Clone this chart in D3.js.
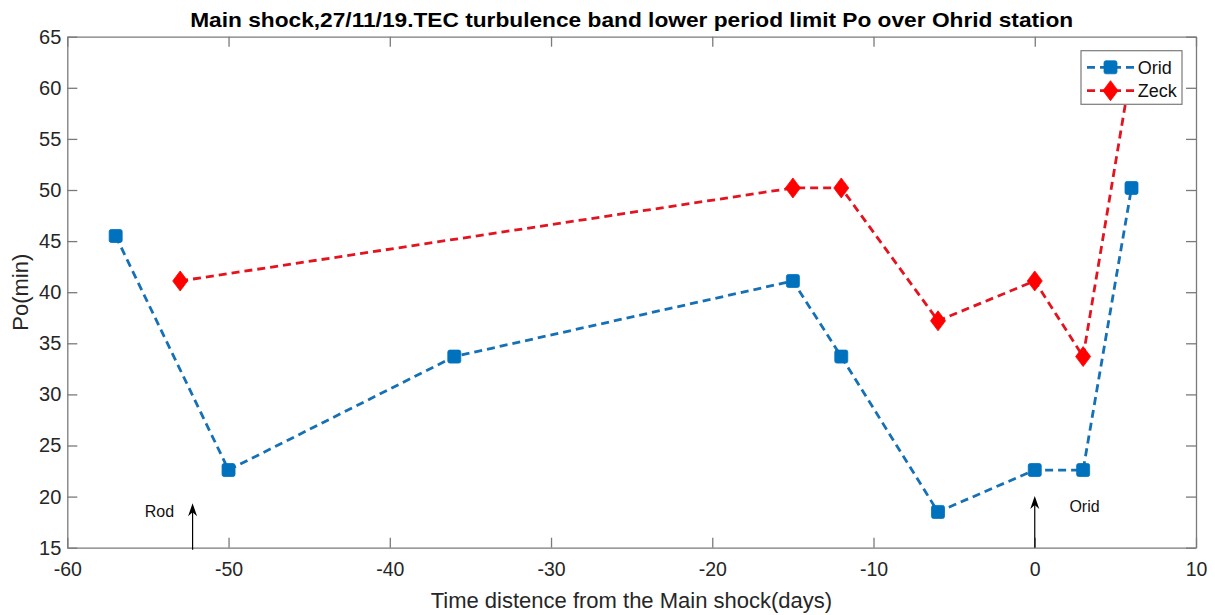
<!DOCTYPE html>
<html>
<head>
<meta charset="utf-8">
<script src="https://cdn.jsdelivr.net/npm/d3@7"></script>
<style>
  html, body { margin: 0; padding: 0; background: #ffffff; }
  svg { display: block; font-family: "Liberation Sans", Arial, Helvetica, sans-serif; }
</style>
</head>
<body>
<svg id="chart" width="1215" height="615"></svg>
<script>
// ---- data ----
const oridDays = [-57, -50, -36, -15, -12, -6, 0, 3, 6];
const oridPo   = [45.5, 22.6, 33.7, 41.1, 33.7, 18.5, 22.6, 22.6, 50.2];
const zeckDays = [-53, -15, -12, -6, 0, 3, 6];
const zeckPo   = [41.1, 50.2, 50.2, 37.2, 41.1, 33.7, 62.0];
const xTicks = [-60, -50, -40, -30, -20, -10, 0, 10];
const yTicks = [15, 20, 25, 30, 35, 40, 45, 50, 55, 60, 65];
const seriesNames = ["Orid", "Zeck"];
// annotations: label, arrow x (days), arrow tail y, arrow tip y, label x, label y (data units)
const annLabels = ["Rod", "Orid"];
const annArrowX = [-52.23, 0];
const annTailY  = [14.8, 15.0];
const annTipY   = [19.35, 20.05];
const annTextX  = [-55.2, 2.15];
const annTextY  = [17.97, 18.46];

const titleText = "Main shock,27/11/19.TEC turbulence band lower period limit Po over Ohrid station";
const xLabelText = "Time distence from the Main shock(days)";
const yLabelText = "Po(min)";

// ---- layout ----
const L = 67.3, R = 1196, T = 36.7, B = 547.7;
const svg = d3.select("#chart");
const x = d3.scaleLinear().domain([-60, 10]).range([L, R]);
const y = d3.scaleLinear().domain([15, 65]).range([B, T]);

const axisColor = "#7a7a7a";
const textColor = "#262626";
const blue = "#0072BD";
const red = "#FF0000";
const fmt = d => String(d);

function styleAxis(g) {
  g.selectAll(".domain").attr("stroke", axisColor).attr("stroke-width", 1.3);
  g.selectAll(".tick line").attr("stroke", axisColor).attr("stroke-width", 1.3);
  g.selectAll(".tick text").attr("fill", textColor)
    .style("font-family", '"Liberation Sans", Arial, sans-serif');
}

svg.append("g").attr("transform", `translate(0,${B})`)
  .call(d3.axisBottom(x).tickValues(xTicks).tickFormat(fmt).tickSizeInner(-10).tickSizeOuter(0).tickPadding(14))
  .call(g => g.selectAll(".tick text").style("font-size", "19.5px"))
  .call(styleAxis);
svg.append("g").attr("transform", `translate(0,${T})`)
  .call(d3.axisTop(x).tickValues(xTicks).tickSizeInner(-10).tickSizeOuter(0).tickFormat(""))
  .call(styleAxis);
svg.append("g").attr("transform", `translate(${L},0)`)
  .call(d3.axisLeft(y).tickValues(yTicks).tickFormat(fmt).tickSizeInner(-10).tickSizeOuter(0).tickPadding(6))
  .call(g => g.selectAll(".tick text").style("font-size", "20px"))
  .call(styleAxis);
svg.append("g").attr("transform", `translate(${R},0)`)
  .call(d3.axisRight(y).tickValues(yTicks).tickSizeInner(-10).tickSizeOuter(0).tickFormat(""))
  .call(styleAxis);

// ---- series ----
const orid = oridDays.map((d, i) => ({x: d, y: oridPo[i]}));
const zeck = zeckDays.map((d, i) => ({x: d, y: zeckPo[i]}));
const line = d3.line().x(d => x(d.x)).y(d => y(d.y));

svg.append("path").datum(zeck).attr("d", line)
  .attr("fill", "none").attr("stroke", "#e3141f").attr("stroke-width", 2.8)
  .attr("stroke-dasharray", "8,5");
svg.append("path").datum(orid).attr("d", line)
  .attr("fill", "none").attr("stroke", "#1570b5").attr("stroke-width", 2.8)
  .attr("stroke-dasharray", "8,5");

const sq = 13;
function square(g, cx, cy) {
  g.append("rect").attr("x", cx - sq/2).attr("y", cy - sq/2)
    .attr("width", sq).attr("height", sq).attr("rx", 2)
    .attr("fill", blue).attr("stroke", blue).attr("stroke-width", 0.8);
}
function diamond(g, cx, cy) {
  const w = 7.5, h = 10;
  g.append("path").attr("d", `M${cx},${cy-h}L${cx+w},${cy}L${cx},${cy+h}L${cx-w},${cy}Z`)
    .attr("fill", red).attr("stroke", red).attr("stroke-width", 0.8).attr("stroke-linejoin", "round");
}
const mk = svg.append("g");
zeck.forEach(d => diamond(mk, x(d.x), y(d.y)));
orid.forEach(d => square(mk, x(d.x), y(d.y)));

// ---- annotations ----
const ann = svg.append("g");
annLabels.forEach((lab, i) => {
  const ax = x(annArrowX[i]), y0 = y(annTailY[i]), y1 = y(annTipY[i]);
  ann.append("line").attr("x1", ax).attr("x2", ax).attr("y1", y0).attr("y2", y1 + 6)
    .attr("stroke", "#000").attr("stroke-width", 1.2);
  ann.append("path").attr("d", `M${ax},${y1}L${ax+4.5},${y1+13}L${ax},${y1+9}L${ax-4.5},${y1+13}Z`)
    .attr("fill", "#000");
  ann.append("text").attr("x", x(annTextX[i])).attr("y", y(annTextY[i]))
    .attr("font-size", 16).attr("fill", "#111").text(lab);
});

// ---- legend ----
const leg = svg.append("g");
leg.append("rect").attr("x", 1081).attr("y", 50.7).attr("width", 101).attr("height", 53.6)
  .attr("fill", "#fff").attr("stroke", axisColor).attr("stroke-width", 1.2);
const legY = [67.3, 90.7];
const legColors = ["#1570b5", "#e3141f"];
seriesNames.forEach((nm, i) => {
  leg.append("line").attr("x1", 1087).attr("x2", 1134).attr("y1", legY[i]).attr("y2", legY[i])
    .attr("stroke", legColors[i]).attr("stroke-width", 2.8).attr("stroke-dasharray", "8,5");
  if (i === 0) square(leg, 1110.5, legY[i]); else diamond(leg, 1110.5, legY[i]);
  leg.append("text").attr("x", 1137.7).attr("y", legY[i] + 6.3)
    .attr("font-size", 18).attr("fill", "#111").text(nm);
});

// ---- labels ----
svg.append("text").attr("x", (L + R) / 2).attr("y", 27).attr("text-anchor", "middle")
  .attr("font-size", 21).attr("font-weight", "bold").attr("fill", "#000")
  .attr("textLength", 883).attr("lengthAdjust", "spacingAndGlyphs").text(titleText);
svg.append("text").attr("x", 631.4).attr("y", 608).attr("text-anchor", "middle")
  .attr("font-size", 22).attr("fill", textColor).text(xLabelText);
svg.append("text").attr("transform", `translate(28,${(T + B) / 2}) rotate(-90)`)
  .attr("text-anchor", "middle").attr("font-size", 22).attr("fill", textColor).text(yLabelText);
</script>
</body>
</html>
